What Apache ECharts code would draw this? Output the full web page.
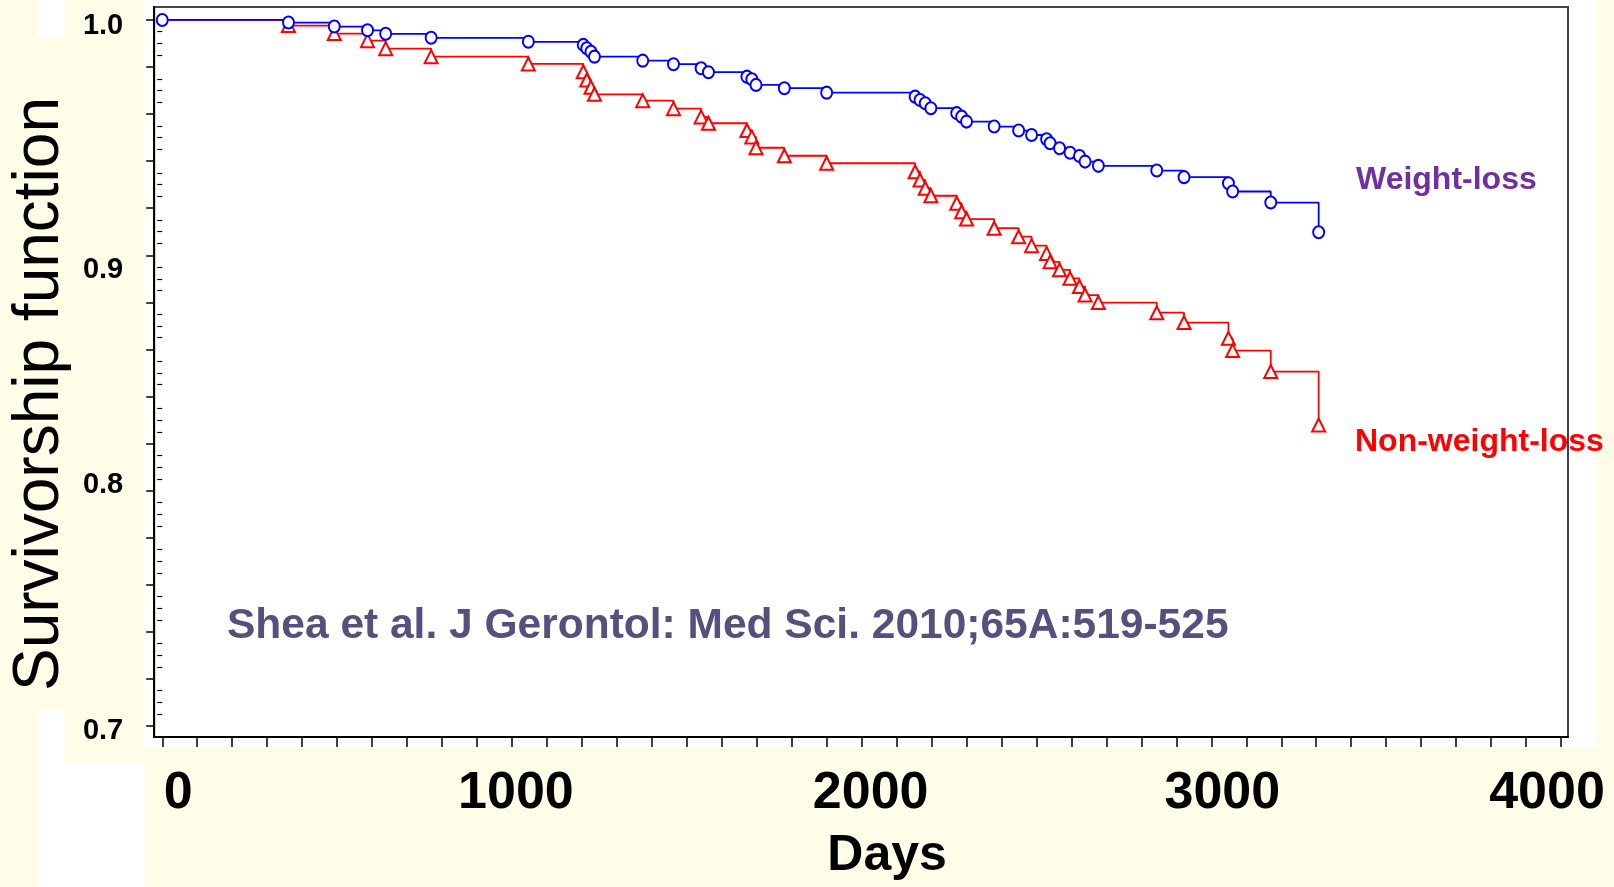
<!DOCTYPE html>
<html>
<head>
<meta charset="utf-8">
<script src="https://cdn.jsdelivr.net/npm/echarts@6/dist/echarts.min.js"></script>
<style>
  html, body { margin: 0; padding: 0; background: #FFFCE8; }
  #chart { width: 1614px; height: 887px; }
</style>
</head>
<body>
<div id="chart"></div>
<script>
// ---- Data ----
const days = [0, 361, 492, 587, 639, 769, 1047, 1204, 1214, 1226, 1236, 1374, 1462, 1541, 1562,
  1672, 1686, 1698, 1779, 1900, 2153, 2167, 2182, 2198, 2272, 2286, 2300, 2379, 2449, 2486,
  2529, 2539, 2566, 2596, 2623, 2639, 2677, 2844, 2922, 3049, 3061, 3170, 3307];

const weightLoss = [1.0, 0.9989, 0.9972, 0.9956, 0.9941, 0.9924, 0.9907, 0.9894, 0.9880, 0.9865, 0.9844,
  0.9827, 0.9812, 0.9795, 0.9778, 0.9759, 0.9748, 0.9724, 0.9710, 0.9691, 0.9674, 0.9660, 0.9646,
  0.9625, 0.9604, 0.9589, 0.9568, 0.9547, 0.9530, 0.9511, 0.9493, 0.9476, 0.9455, 0.9436, 0.9422,
  0.9398, 0.9380, 0.9360, 0.9332, 0.9306, 0.9271, 0.9224, 0.9098];

const nonWeightLoss = [1.0, 0.9976, 0.9942, 0.9912, 0.9878, 0.9844, 0.9813, 0.9780, 0.9745, 0.9714, 0.9684,
  0.9657, 0.9623, 0.9588, 0.9561, 0.9530, 0.9503, 0.9457, 0.9423, 0.9391, 0.9355, 0.9320, 0.9285,
  0.9253, 0.9221, 0.9185, 0.9154, 0.9115, 0.9079, 0.9041, 0.9008, 0.8972, 0.8938, 0.8902, 0.8867,
  0.8831, 0.8799, 0.8756, 0.8714, 0.8647, 0.8595, 0.8506, 0.8279];

const xTickLabels = [0, 1000, 2000, 3000, 4000];
const yTickLabels = [0.7, 0.8, 0.9, 1.0];
const seriesNames = ['Weight-loss', 'Non-weight-loss'];
const citation = 'Shea et al. J Gerontol: Med Sci. 2010;65A:519-525';

// ---- Tick positions (axis decoration) ----
const xTicks = [];
for (let d = 0; d <= 4000; d += 100) xTicks.push(d);
const yMajor = [];
for (let i = 0; i <= 15; i++) yMajor.push(+(0.7 + 0.02 * i).toFixed(3));
const yMinor = [];
for (let i = 0; i <= 60; i++) if (i % 4 !== 0) yMinor.push(+(0.7 + 0.005 * i).toFixed(4));

const FONT = "'Liberation Sans', Arial, Helvetica, sans-serif";
const X_MIN = -23, X_MAX = 4020, Y_MIN = 0.6953, Y_MAX = 1.0055;

// label nudges (pasted-on labels in the source slide are slightly off their ticks)
const xLabStyle = { fontFamily: FONT, fontSize: 52, fontWeight: 'bold', color: '#000' };
const yLabStyle = { fontFamily: FONT, fontSize: 29, fontWeight: 'bold', color: '#000' };
const xRich = {
  x0: Object.assign({ padding: [0, 0, 0, 32] }, xLabStyle),
  x1: Object.assign({ padding: [0, 0, 0, 8] }, xLabStyle),
  x2: Object.assign({ padding: [0, 0, 0, 18] }, xLabStyle),
  x3: Object.assign({ padding: [0, 0, 0, 22] }, xLabStyle),
  x4: Object.assign({ padding: [0, 28, 0, 0] }, xLabStyle)
};
const yRich = {
  y7: Object.assign({ padding: [10, 0, 0, 0] }, yLabStyle),
  y8: Object.assign({ padding: [0, 0, 12, 0] }, yLabStyle),
  y9: Object.assign({ padding: [30, 0, 0, 0] }, yLabStyle),
  y10: Object.assign({ padding: [12, 0, 0, 0] }, yLabStyle)
};

const blueData = days.map((d, i) => [d, weightLoss[i]]);
const redData = days.map((d, i) => i === 0 ? { value: [d, nonWeightLoss[i]], symbol: 'none' } : [d, nonWeightLoss[i]]);

const chart = echarts.init(document.getElementById('chart'), null, { renderer: 'canvas' });
chart.setOption({
  animation: false,
  backgroundColor: '#FFFCE8',
  grid: {
    left: 154, top: 7, width: 1414, height: 730,
    show: true, backgroundColor: 'transparent', borderColor: '#444', borderWidth: 2
  },
  xAxis: {
    type: 'value', min: X_MIN, max: X_MAX,
    name: 'Days', nameLocation: 'middle', nameGap: 94,
    nameTextStyle: { fontFamily: FONT, fontSize: 50, fontWeight: 'bold', color: '#000', padding: [0, 0, 0, 52] },
    axisLine: { show: true, onZero: false, lineStyle: { color: '#000', width: 2 } },
    axisTick: { show: true, customValues: xTicks, length: 10, lineStyle: { color: '#000', width: 1.5 } },
    axisLabel: {
      customValues: xTickLabels, margin: 31, fontFamily: FONT, fontSize: 52, fontWeight: 'bold', color: '#000',
      formatter: v => '{x' + Math.round(v / 1000) + '|' + String(v) + '}', rich: xRich
    },
    splitLine: { show: false }
  },
  yAxis: [{
    type: 'value', min: Y_MIN, max: Y_MAX,
    name: 'Survivorship function', nameLocation: 'middle', nameGap: 82, nameRotate: 90,
    nameTextStyle: { fontFamily: FONT, fontSize: 64, fontWeight: 'normal', color: '#000', padding: [0, 44, 0, 0] },
    axisLine: { show: true, onZero: false, lineStyle: { color: '#000', width: 2 } },
    axisTick: { show: true, customValues: yMajor, length: 8, lineStyle: { color: '#000', width: 1.5 } },
    axisLabel: {
      customValues: yTickLabels, margin: 31, fontFamily: FONT, fontSize: 29, fontWeight: 'bold', color: '#000',
      formatter: v => '{y' + Math.round(v * 10) + '|' + v.toFixed(1) + '}', rich: yRich
    },
    splitLine: { show: false }
  }, {
    type: 'value', min: Y_MIN, max: Y_MAX, position: 'left',
    axisLine: { show: false },
    axisTick: { show: true, customValues: yMinor, length: 5, lineStyle: { color: '#000', width: 1.2 } },
    axisLabel: { show: false },
    splitLine: { show: false }
  }],
  series: [{
    name: seriesNames[1], type: 'line', step: 'end', data: redData,
    symbol: 'emptyTriangle', symbolSize: 13, showAllSymbol: true,
    lineStyle: { color: '#FF0000', width: 1.8 },
    itemStyle: { color: '#FF0000', borderColor: '#FF0000', borderWidth: 2 },
    z: 3
  }, {
    name: seriesNames[0], type: 'line', step: 'end', data: blueData,
    symbol: 'emptyCircle', symbolSize: [11, 12], showAllSymbol: true,
    lineStyle: { color: '#0000FF', width: 1.8 },
    itemStyle: { color: '#0000FF', borderColor: '#0000FF', borderWidth: 2 },
    z: 4
  }],
  graphic: [
    { type: 'rect', silent: true, z: -10, shape: { x: 144, y: 0, width: 1452, height: 748 }, style: { fill: '#FFFFFF' } },
    { type: 'rect', silent: true, z: -10, shape: { x: 37, y: 0, width: 27, height: 37 }, style: { fill: '#FFFFFF' } },
    { type: 'rect', silent: true, z: -10, shape: { x: 37, y: 710, width: 27, height: 177 }, style: { fill: '#FFFFFF' } },
    { type: 'rect', silent: true, z: -10, shape: { x: 37, y: 763, width: 107, height: 124 }, style: { fill: '#FFFFFF' } },
    { type: 'text', z: 100, x: 1356, y: 180, style: { text: seriesNames[0], fill: '#7030A0', fontFamily: FONT, fontSize: 32, fontWeight: 'bold', verticalAlign: 'middle', align: 'left' } },
    { type: 'text', z: 100, x: 1355, y: 442, style: { text: seriesNames[1], fill: '#FF0000', fontFamily: FONT, fontSize: 32, fontWeight: 'bold', verticalAlign: 'middle', align: 'left' } },
    { type: 'text', z: 100, x: 227, y: 626, style: { text: citation, fill: '#574F7D', fontFamily: FONT, fontSize: 42.5, fontWeight: 'bold', verticalAlign: 'middle', align: 'left' } }
  ]
});
</script>
</body>
</html>
